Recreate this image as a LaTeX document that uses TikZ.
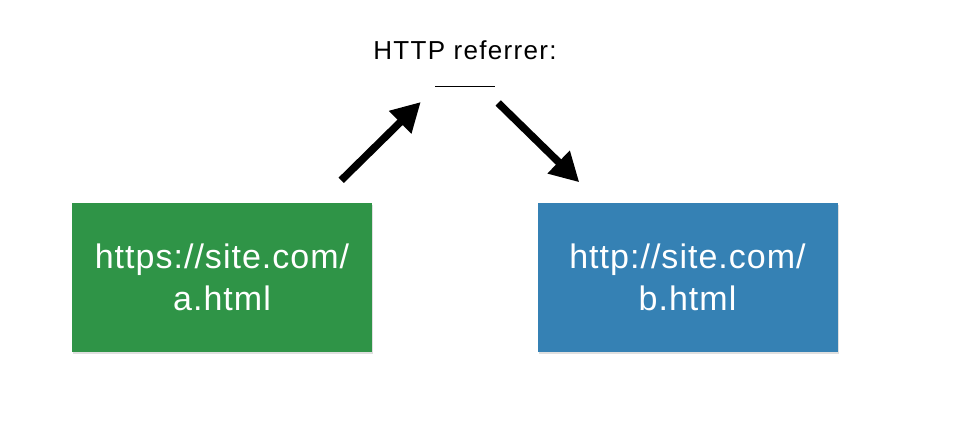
\documentclass[tikz,border=0pt]{standalone}
\usepackage{fontspec}
\setmainfont{Liberation Sans}
\definecolor{pageGreen}{HTML}{2F9447}
\definecolor{pageBlue}{HTML}{3581B4}
\usepackage{tikz}
\usetikzlibrary{arrows.meta,positioning,shadows}

\begin{document}
\begin{tikzpicture}[x=1pt, y=1pt,
  page/.style={minimum width=300pt, minimum height=149pt, inner sep=0pt,
               text=white, align=center,
               font=\fontsize{34}{42}\selectfont\addfontfeature{LetterSpace=3},
               drop shadow={opacity=0.25, shadow xshift=1pt, shadow yshift=-2pt}},
  lbl/.style={font=\fontsize{26}{30}\selectfont\addfontfeature{LetterSpace=5},
              inner sep=0pt},
  arr/.style={-{Triangle[length=29pt, width=30pt]}, line width=7.5pt, black}
]
\path[fill=white, use as bounding box] (0,0) rectangle (964,422);
\node[page, fill=pageGreen] (secure) at (222,144.5) {https://site.com/\\a.html};
\node[page, fill=pageBlue]  (plain)  at (687.5,144.5) {http://site.com/\\b.html};
\node[lbl, anchor=base] (referrer) at (465,362.5) {HTTP referrer:};
\node[inner sep=0pt] (blank) at (465,335.5) {\rule{60pt}{1pt}};
\draw[arr] ([xshift=-31pt, yshift=22.5pt]secure.north east)
        -- ([xshift=-14pt, yshift=-15.5pt]blank.west);
\draw[arr] ([xshift=3pt, yshift=-16.5pt]blank.east)
        -- ([xshift=42pt, yshift=20.5pt]plain.north west);
\end{tikzpicture}
\end{document}
